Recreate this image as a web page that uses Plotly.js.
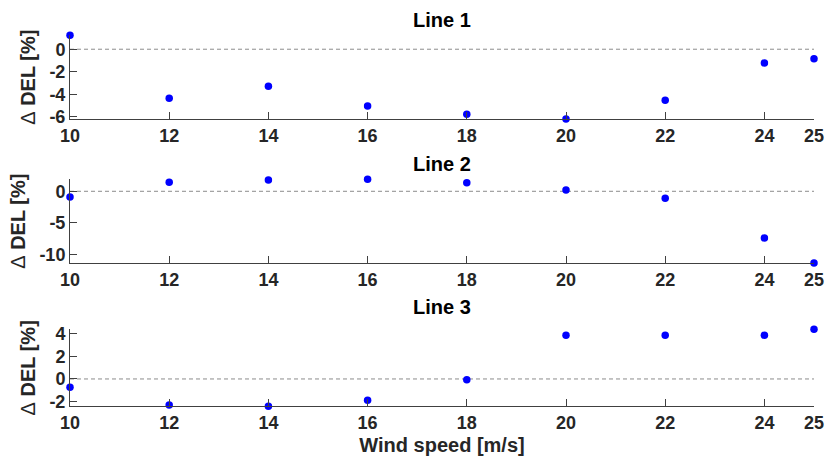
<!DOCTYPE html>
<html>
<head>
<meta charset="utf-8">
<script src="https://cdn.plot.ly/plotly-3.0.1.min.js"></script>
<style>html,body{margin:0;padding:0;background:#fff;}#chart{width:826px;height:463px;}</style>
</head>
<body>
<div id="chart"></div>
<script>
const windSpeed = [10, 12, 14, 16, 18, 20, 22, 24, 25];
const line1 = [1.24, -4.36, -3.29, -5.04, -5.78, -6.2, -4.53, -1.22, -0.84];
const line2 = [-0.9, 1.43, 1.79, 1.9, 1.37, 0.2, -1.11, -7.41, -11.38];
const line3 = [-0.74, -2.29, -2.41, -1.88, -0.06, 3.86, 3.86, 3.86, 4.38];
const panelTitles = ["Line 1", "Line 2", "Line 3"];
const xTickVals = [10, 12, 14, 16, 18, 20, 22, 24, 25];
const xTickText = ["10", "12", "14", "16", "18", "20", "22", "24", "25"];
const y1TickVals = [0, -2, -4, -6];
const y1TickText = ["0", "-2", "-4", "-6"];
const y2TickVals = [0, -5, -10];
const y2TickText = ["0", "-5", "-10"];
const y3TickVals = [4, 2, 0, -2];
const y3TickText = ["4", "2", "0", "-2"];
const yLabel = "<span style='font-weight:normal'>Δ</span> DEL [%]";
const xLabel = "Wind speed [m/s]";

const series = [line1, line2, line3];
const yTicks = [[y1TickVals, y1TickText], [y2TickVals, y2TickText], [y3TickVals, y3TickText]];
const domains = [[0.7430, 0.9238], [0.4320, 0.6127], [0.1225, 0.2888]];
const titleY = [0.9568, 0.6458, 0.3359];

const FONT = "Liberation Sans, Arial, Helvetica, sans-serif";
const AX = "#404040";
const traces = [];
const layout = {
  width: 826, height: 463,
  margin: {l: 70, r: 12, t: 0, b: 0},
  paper_bgcolor: "#fff", plot_bgcolor: "#fff",
  showlegend: false,
  font: {family: FONT, color: "#262626"},
  annotations: []
};

series.forEach((ys, i) => {
  const n = i + 1;
  const xa = "x" + (n === 1 ? "" : n), ya = "y" + (n === 1 ? "" : n);
  traces.push({
    x: [windSpeed[0], windSpeed[windSpeed.length - 1]], y: [0, 0],
    xaxis: xa, yaxis: ya, mode: "lines", hoverinfo: "skip",
    line: {color: "#8c8c8c", width: 1, dash: "4px,3px"}
  });
  traces.push({
    x: windSpeed, y: ys, xaxis: xa, yaxis: ya, mode: "markers",
    cliponaxis: false,
    marker: {color: "#0000ff", size: 7.5}
  });
  const axBase = {
    showline: true, linecolor: AX, linewidth: 1,
    showgrid: false, zeroline: false,
    ticks: "inside", ticklen: 7, tickcolor: AX, tickwidth: 1,
    tickfont: {family: FONT, size: 18, color: "#262626", weight: "bold"},
    tickmode: "array", fixedrange: true
  };
  layout["xaxis" + (n === 1 ? "" : n)] = Object.assign({}, axBase, {
    domain: [0, 1], anchor: ya,
    range: [windSpeed[0], windSpeed[windSpeed.length - 1]],
    tickvals: xTickVals, ticktext: xTickText,
    title: n === 3 ? {text: xLabel, font: {family: FONT, size: 20, color: "#262626", weight: "bold"}, standoff: 6} : {text: ""}
  });
  layout["yaxis" + (n === 1 ? "" : n)] = Object.assign({}, axBase, {
    domain: domains[i], anchor: xa,
    range: [Math.min(...ys), Math.max(...ys)],
    tickvals: yTicks[i][0], ticktext: yTicks[i][1],
    title: {text: yLabel, font: {family: FONT, size: 20, color: "#262626", weight: "bold"}, standoff: 8}
  });
  layout.annotations.push({
    text: panelTitles[i], xref: "paper", yref: "paper", x: 0.5, y: titleY[i],
    xanchor: "center", yanchor: "middle", showarrow: false,
    font: {family: FONT, size: 20, color: "#000", weight: "bold"}
  });
});

Plotly.newPlot("chart", traces, layout, {displayModeBar: false, staticPlot: true});
</script>
</body>
</html>
